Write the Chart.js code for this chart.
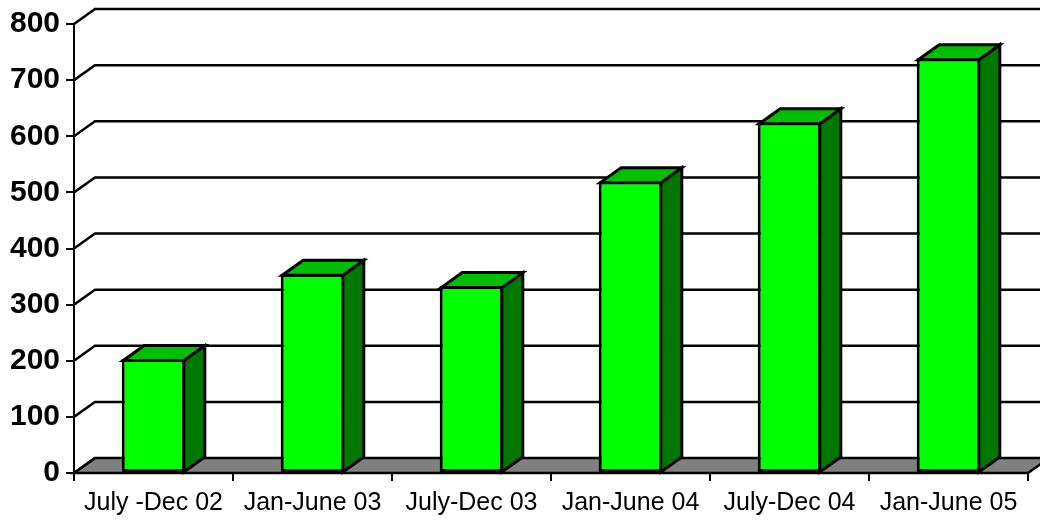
<!DOCTYPE html>
<html>
<head>
<meta charset="utf-8">
<script src="https://cdn.jsdelivr.net/npm/chart.js@4/dist/chart.umd.min.js"></script>
<style>
html,body{margin:0;padding:0;background:#fff;}
canvas{display:block;}
</style>
</head>
<body>
<canvas id="c" width="1040" height="520"></canvas>
<script>
const categories = ["July -Dec 02", "Jan-June 03", "July-Dec 03", "Jan-June 04", "July-Dec 04", "Jan-June 05"];
const values = [203, 355, 333, 520, 625, 739];
const yTicks = [0, 100, 200, 300, 400, 500, 600, 700, 800];

const DX = 21, DY = 15;
const BW = 3;
const FONT = "'Liberation Sans', Arial, Helvetica, sans-serif";

const threeD = {
  id: 'threeD',
  beforeDatasetsDraw(chart) {
    const ctx = chart.ctx;
    const {left, right, top, bottom} = chart.chartArea;
    const y = chart.scales.y;
    ctx.save();
    ctx.lineWidth = 2.5;
    ctx.strokeStyle = '#000';
    // floor
    ctx.beginPath();
    ctx.moveTo(left, bottom);
    ctx.lineTo(left + DX, bottom - DY);
    ctx.lineTo(right + DX, bottom - DY);
    ctx.lineTo(right, bottom);
    ctx.closePath();
    ctx.fillStyle = '#808080';
    ctx.fill();
    ctx.stroke();
    // back wall grid lines and connectors
    y.ticks.forEach(t => {
      const py = y.getPixelForValue(t.value);
      ctx.beginPath();
      ctx.moveTo(left, py);
      ctx.lineTo(left + DX, py - DY);
      if (t.value > 0) ctx.lineTo(right + DX, py - DY);
      ctx.stroke();
    });
    ctx.restore();
  },
  afterDatasetsDraw(chart) {
    const ctx = chart.ctx;
    const meta = chart.getDatasetMeta(0);
    const h = BW / 2;
    ctx.save();
    ctx.lineWidth = BW;
    ctx.strokeStyle = '#000';
    ctx.lineJoin = 'miter';
    meta.data.forEach(bar => {
      const l = bar.x - bar.width / 2, r = bar.x + bar.width / 2;
      const t = bar.y, b = bar.base;
      // side
      ctx.beginPath();
      ctx.moveTo(r - h, t + h);
      ctx.lineTo(r - h + DX, t + h - DY);
      ctx.lineTo(r - h + DX, b - DY);
      ctx.lineTo(r - h, b);
      ctx.closePath();
      ctx.fillStyle = '#007800';
      ctx.fill();
      ctx.stroke();
      // top
      ctx.beginPath();
      ctx.moveTo(l + h, t + h);
      ctx.lineTo(l + h + DX, t + h - DY);
      ctx.lineTo(r - h + DX, t + h - DY);
      ctx.lineTo(r - h, t + h);
      ctx.closePath();
      ctx.fillStyle = '#00BE00';
      ctx.fill();
      ctx.stroke();
    });
    ctx.restore();
  }
};

new Chart(document.getElementById('c'), {
  type: 'bar',
  data: {
    labels: categories,
    datasets: [{
      data: values,
      backgroundColor: '#00FF00',
      borderColor: '#000000',
      borderWidth: BW,
      borderSkipped: false,
      barPercentage: 0.4,
      categoryPercentage: 1.0
    }]
  },
  options: {
    responsive: false,
    animation: false,
    layout: { padding: { top: 24, right: 12, left: 0, bottom: 0 } },
    plugins: { legend: { display: false }, tooltip: { enabled: false } },
    scales: {
      x: {
        grid: { drawOnChartArea: false, drawTicks: true, tickLength: 8, color: '#000', lineWidth: 2, offset: true },
        border: { display: true, color: '#000', width: 2 },
        ticks: { font: { family: FONT, size: 25 }, color: '#000', padding: 7, maxRotation: 0, autoSkip: false },
        afterFit: s => { s.height = 47; }
      },
      y: {
        min: 0, max: 800,
        afterBuildTicks: s => { s.ticks = yTicks.map(v => ({ value: v })); },
        grid: { drawOnChartArea: false, drawTicks: true, tickLength: 8, color: '#000', lineWidth: 2 },
        border: { display: true, color: '#000', width: 2 },
        ticks: { font: { family: FONT, size: 30, weight: 'bold' }, color: '#000', padding: 6 },
        afterFit: s => { s.width = 74; }
      }
    }
  },
  plugins: [threeD]
});
</script>
</body>
</html>
